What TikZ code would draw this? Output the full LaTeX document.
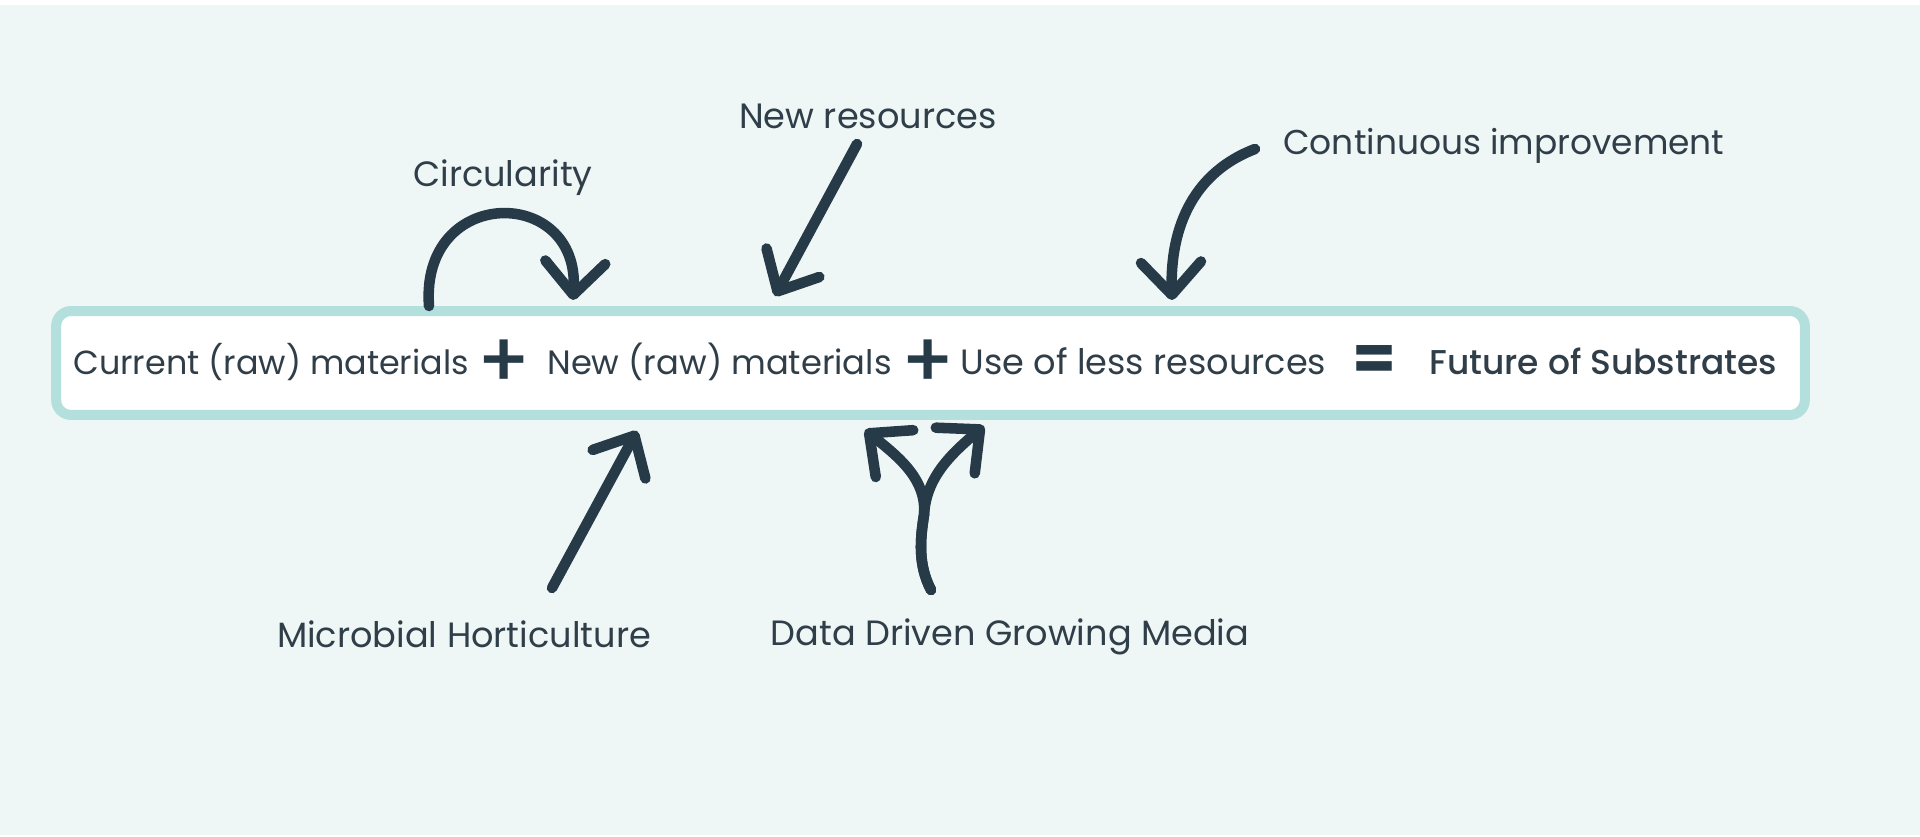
\documentclass[tikz,border=0pt]{standalone}
\usepackage{fontspec}
\setmainfont{Poppins}
\newfontfamily\medfont{Poppins Medium}
\usetikzlibrary{arrows.meta}
\definecolor{ink}{HTML}{263A48}
\definecolor{txt}{HTML}{2F3E48}
\definecolor{frame}{HTML}{B3DFDC}
\definecolor{bg}{HTML}{EEF7F6}

\begin{document}
\begin{tikzpicture}[x=0.02cm,y=-0.02cm,
  lbl/.style={text=txt,font=\fontsize{20}{24}\selectfont,inner sep=0pt},
  sym/.style={text=ink,font=\medfont\fontsize{44}{46}\selectfont,inner sep=0pt},
  arr/.style={draw=ink,line width=6pt,line cap=round,-{Straight Barb[length=6.5mm,width=12mm,round]}}]
\fill[white] (0,0) rectangle (1920,837);
\fill[bg] (0,5) rectangle (1920,835);
% the sum in its box
\node (eqn) [draw=frame,fill=white,line width=0.2cm,rounded corners=0.3cm,minimum width=34.98cm,minimum height=2.08cm] at (930.5,363) {};
\node (cur) [lbl,anchor=base west,font=\fontsize{19}{23}\selectfont] at (73,375) {Current (raw) materials};
\node (plusa) [sym] at (504,364) {+};
\node (new) [lbl,anchor=base west,font=\fontsize{19.2}{23}\selectfont] at (547,375) {New (raw) materials};
\node (plusb) [sym] at (928,364) {+};
\node (less) [lbl,anchor=base west] at (960,375) {Use of less resources};
\node (eq) [sym,font=\bfseries\fontsize{36}{38}\selectfont] at (1374,363) {=};
\node (fut) [lbl,anchor=base west,font=\medfont\fontsize{19.6}{23}\selectfont] at (1429,375) {Future of Substrates};
% labels round it
\node (circ) [lbl] at (503,178) {Circularity};
\node (newres) [lbl] at (868,116) {New resources};
\node (cont) [lbl,anchor=west,font=\fontsize{19.6}{24}\selectfont] at (1283,146) {Continuous improvement};
\node (micro) [lbl] at (464,634) {Microbial Horticulture};
\node (data) [lbl] at (1010,637) {Data Driven Growing Media};
% arrow ends
\coordinate (circs) at (429,306);
\coordinate (circe) at (573,300);
\coordinate (nrs) at (857,144);
\coordinate (nre) at (775,296);
\coordinate (cis) at (1255,149);
\coordinate (cie) at (1172,300);
\coordinate (mhs) at (552,588);
\coordinate (mhe) at (637,431);
\coordinate (dds) at (931,590);
\coordinate (ddf) at (924,515);
\coordinate (ddl) at (865,430);
\coordinate (ddr) at (984,426);
\draw[arr] (circs) .. controls (420,185) and (580,185) .. (circe);
\draw[arr] (nrs) -- (nre);
\draw[arr] (cis) .. controls (1195,172) and (1170,225) .. (cie);
\draw[arr] (mhs) -- (mhe);
\draw[arr] (dds) .. controls (918,565) and (920,540) .. (ddf) .. controls (927,480) and (900,458) .. (ddl);
\draw[arr] (dds) .. controls (918,565) and (920,540) .. (ddf) .. controls (926,478) and (950,455) .. (ddr);
\end{tikzpicture}
\end{document}
